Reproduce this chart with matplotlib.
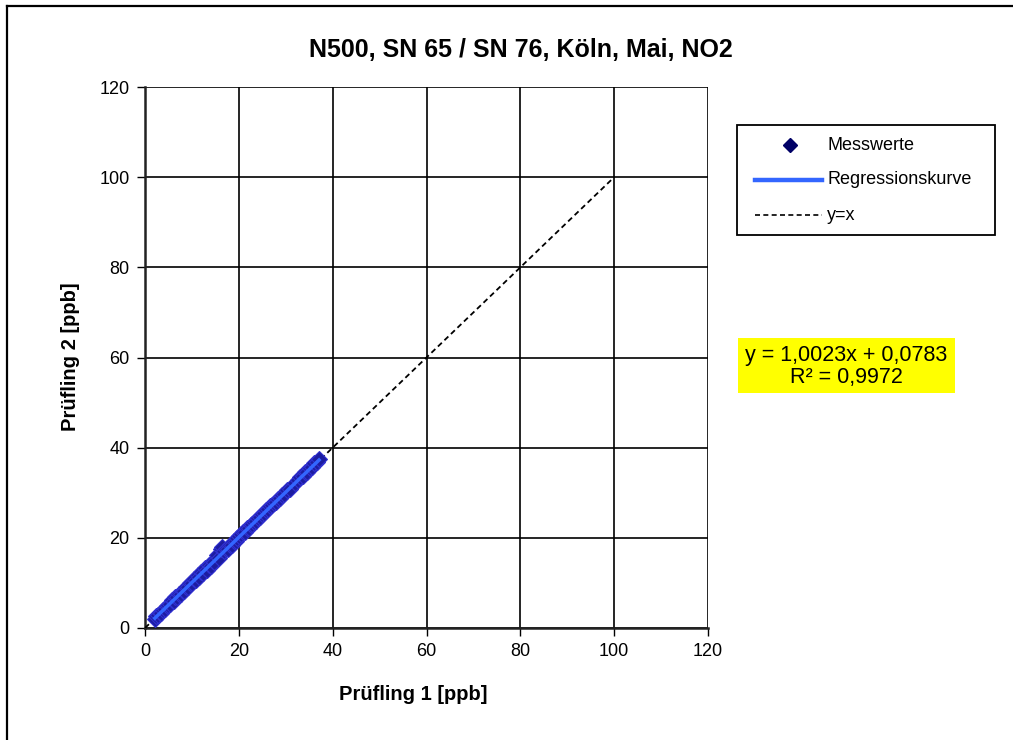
import matplotlib
matplotlib.use("Agg")
import matplotlib.pyplot as plt
from matplotlib.lines import Line2D
from matplotlib.patches import Rectangle
import numpy as np

plt.rcParams['font.family'] = ['Liberation Sans', 'DejaVu Sans']

title = "N500, SN 65 / SN 76, Köln, Mai, NO2"
xlabel = "Prüfling 1 [ppb]"
ylabel = "Prüfling 2 [ppb]"
ticks = [0, 20, 40, 60, 80, 100, 120]
legend_labels = ["Messwerte", "Regressionskurve", "y=x"]
slope = 1.0023
intercept = 0.0783
r2_text = "R² = 0,9972"
eq_text = "y = 1,0023x + 0,0783"
identity_x = [0, 100]

x_vals = [2.1, 2.4, 2.8, 3.1, 3.5, 3.9, 4.3, 4.6, 5.0, 5.4, 5.8, 6.1, 6.5, 6.9,
          7.3, 7.7, 8.0, 8.4, 8.8, 9.2, 9.6, 10.0, 10.4, 10.8, 11.2, 11.6, 12.0,
          12.4, 12.8, 13.2, 13.6, 14.0, 14.4, 14.8, 15.3, 15.7, 16.1, 16.5, 16.9,
          17.3, 17.7, 18.1, 18.5, 18.9, 19.3, 19.7, 20.1, 20.5, 20.9, 21.3, 21.7,
          22.1, 22.5, 22.9, 23.3, 23.7, 24.1, 24.6, 25.0, 25.4, 25.8, 26.2, 26.7,
          27.1, 27.5, 27.9, 28.4, 28.8, 29.2, 29.7, 30.2, 30.8, 32.0, 32.6, 33.1,
          33.6, 34.1, 34.6, 35.1, 35.6, 36.1, 36.6, 37.1]
y_vals = [2.0, 2.6, 2.9, 3.3, 3.4, 4.1, 4.2, 4.9, 5.1, 5.3, 6.1, 6.0, 6.8, 6.8,
          7.6, 7.6, 8.3, 8.3, 9.2, 9.1, 10.0, 9.9, 10.9, 10.6, 11.7, 11.3, 12.5,
          12.2, 13.2, 12.9, 14.0, 13.8, 14.9, 14.6, 16.2, 15.5, 17.6, 17.9, 17.0,
          17.6, 17.6, 18.3, 18.4, 19.3, 19.2, 20.0, 20.3, 20.8, 21.2, 21.4, 22.1,
          22.2, 22.8, 23.1, 23.6, 23.8, 24.4, 24.7, 25.3, 25.5, 26.1, 26.3, 27.0,
          27.2, 27.8, 28.0, 28.7, 28.9, 29.5, 29.8, 30.5, 30.9, 32.2, 32.8, 33.4,
          33.7, 34.5, 34.7, 35.5, 35.7, 36.5, 36.8, 37.4]

W, H = 1013, 740
fig = plt.figure(figsize=(W / 100, H / 100), dpi=100)

def fx(px):
    return px / W

def fy(py):
    return 1 - py / H

T = fig.transFigure

# outer frame (left and top edges visible)
fig.add_artist(Line2D([fx(7), fx(7)], [0, fy(6)], color='black', lw=1.6, transform=T))
fig.add_artist(Line2D([fx(7), 1], [fy(6), fy(6)], color='black', lw=1.6, transform=T))

ax = fig.add_axes([fx(145), fy(628), fx(708) - fx(145), fy(87) - fy(628)])
ax.set_xlim(0, 120)
ax.set_ylim(0, 120)
ax.set_xticks(ticks)
ax.set_yticks(ticks)
ax.grid(True, color='black', lw=1.2)
ax.set_axisbelow(True)
for s in ['top', 'right']:
    ax.spines[s].set_visible(False)
for s in ['left', 'bottom']:
    ax.spines[s].set_color('#222222')
    ax.spines[s].set_linewidth(1.8)
ax.tick_params(direction='out', length=6, width=1.0, labelsize=13, pad=5)

xv = np.array(x_vals)
yv = np.array(y_vals)
ax.plot(identity_x, identity_x, ls=(0, (3, 2)), color='black', lw=1.3, zorder=3)
ax.plot(xv, yv, 'D', ms=8, mfc='#1c1ca0', mec='#3030d0', mew=0.8, zorder=4)
xr = np.array([xv.min(), xv.max()])
ax.plot(xr, slope * xr + intercept, color='#3366ff', lw=2.5, zorder=5)

fig.text(fx(521), fy(50), title, ha='center', va='center', fontsize=18, fontweight='bold')
fig.text(fx(413), fy(694), xlabel, ha='center', va='center', fontsize=14.5, fontweight='bold')
fig.text(fx(70), fy(357), ylabel, ha='center', va='center', fontsize=14.5, fontweight='bold', rotation=90)

# legend (drawn in figure pixel layout)
fig.add_artist(Rectangle((fx(737), fy(235)), fx(995) - fx(737), fy(125) - fy(235),
                         transform=T, fc='white', ec='black', lw=1.3))
rows = [145, 180, 215]
fig.add_artist(Line2D([fx(790)], [fy(rows[0])], ls='none', marker='D', ms=7,
                      mfc='#000066', mec='#000066', transform=T))
fig.add_artist(Line2D([fx(755), fx(822)], [fy(rows[1]), fy(rows[1])], color='#3366ff',
                      lw=3.2, transform=T))
fig.add_artist(Line2D([fx(755), fx(822)], [fy(rows[2]), fy(rows[2])], color='black',
                      lw=1.2, ls=(0, (3, 2)), transform=T))
for lab, r in zip(legend_labels, rows):
    fig.text(fx(827), fy(r), lab, ha='left', va='center', fontsize=13)

# equation box
fig.add_artist(Rectangle((fx(738), fy(393)), fx(955) - fx(738), fy(338) - fy(393),
                         transform=T, fc='#ffff00', ec='none'))
fig.text(fx(846), fy(355), eq_text, ha='center', va='center', fontsize=15.5)
fig.text(fx(846), fy(377), r2_text, ha='center', va='center', fontsize=15.5)

fig.savefig('out.png', dpi=100)
